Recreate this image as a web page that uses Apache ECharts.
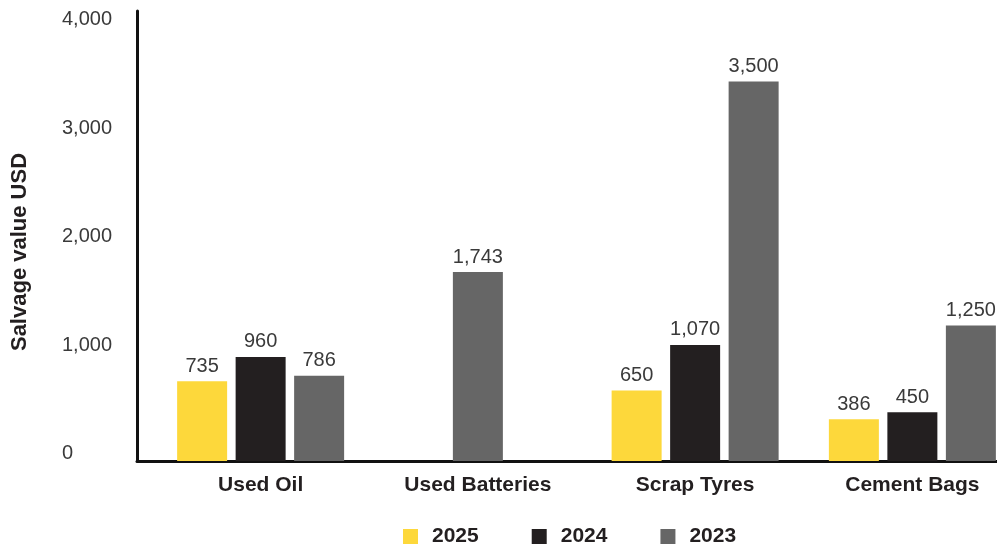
<!DOCTYPE html>
<html>
<head>
<meta charset="utf-8">
<script src="https://cdn.jsdelivr.net/npm/echarts@6/dist/echarts.min.js"></script>
<style>
  html, body { margin: 0; padding: 0; background: #ffffff; }
  #chart { width: 997px; height: 547px; }
</style>
</head>
<body>
<div id="chart"></div>
<script>
// Salvage value by waste stream and year (USD)
const categories = ['Used Oil', 'Used Batteries', 'Scrap Tyres', 'Cement Bags'];
const years = ['2025', '2024', '2023'];
const values2025 = [735, null, 650, 386];
const values2024 = [960, null, 1070, 450];
const values2023 = [786, 1743, 3500, 1250];
const yTicks = [0, 1000, 2000, 3000, 4000];

const colors = { '2025': '#FDD83B', '2024': '#231F20', '2023': '#666666' };
const FONT = '"Liberation Sans", Arial, Helvetica, sans-serif';
const fmt = v => Number(v).toLocaleString('en-US');

// A category with only a 2023 value gets its bar centred in the band
const lone = categories.map((c, i) => values2025[i] == null && values2024[i] == null);
const grouped2023 = values2023.map((v, i) => lone[i] ? null : v);
const single2023 = values2023.map((v, i) => lone[i] ? v : null);

const yMax = 4150;
const barLabel = {
  show: true,
  position: 'top',
  distance: 5,
  color: '#3a3a3a',
  fontFamily: FONT,
  fontSize: 20,
  formatter: p => fmt(p.value)
};

const chart = echarts.init(document.getElementById('chart'), null, { renderer: 'canvas' });
chart.setOption({
  backgroundColor: '#ffffff',
  animation: false,
  grid: [
    { left: 137, width: 900, top: 11, bottom: 86, outerBoundsMode: 'none', containLabel: false },   // axis frame
    { left: 152, width: 869, top: 11, bottom: 86, outerBoundsMode: 'none', containLabel: false }    // bars
  ],
  xAxis: [
    {
      gridIndex: 0, type: 'category', data: categories,
      axisLine: { show: true, lineStyle: { color: '#111111', width: 3 } },
      axisTick: { show: false }, axisLabel: { show: false }, splitLine: { show: false }
    },
    {
      gridIndex: 1, type: 'category', data: categories,
      axisLine: { show: false }, axisTick: { show: false },
      axisLabel: {
        margin: 14, color: '#231F20', fontFamily: FONT, fontSize: 21, fontWeight: 'bold'
      }
    },
    {
      gridIndex: 1, type: 'category', data: categories, show: false
    }
  ],
  yAxis: [
    {
      gridIndex: 0, type: 'value', min: 0, max: yMax, interval: 1000,
      axisLine: { show: true, lineStyle: { color: '#111111', width: 3 } },
      axisTick: { show: false }, splitLine: { show: false },
      axisLabel: {
        showMaxLabel: false,
        align: 'left', margin: 75,
        verticalAlign: 'bottom', lineHeight: 15,
        color: '#3a3a3a', fontFamily: FONT, fontSize: 20,
        formatter: v => yTicks.includes(v) ? fmt(v) : ''
      }
    },
    {
      gridIndex: 1, type: 'value', min: 0, max: yMax, show: false
    }
  ],
  legend: {
    data: years,
    left: 398, top: 521,
    icon: 'rect', itemWidth: 15, itemHeight: 15, itemGap: 53,
    textStyle: { color: '#231F20', fontFamily: FONT, fontSize: 21, fontWeight: 'bold', padding: [0, 0, 0, 9] }
  },
  graphic: [{
    type: 'text',
    x: 20, y: 252,
    rotation: Math.PI / 2,
    style: {
      text: 'Salvage value USD',
      fill: '#231F20',
      font: 'bold 22px ' + FONT,
      textAlign: 'center',
      textVerticalAlign: 'middle'
    }
  }],
  series: [
    {
      name: '2025', type: 'bar', xAxisIndex: 1, yAxisIndex: 1,
      data: values2025, barWidth: 50, barGap: '17%',
      itemStyle: { color: colors['2025'] }, label: barLabel
    },
    {
      name: '2024', type: 'bar', xAxisIndex: 1, yAxisIndex: 1,
      data: values2024, barWidth: 50, barGap: '17%',
      itemStyle: { color: colors['2024'] }, label: barLabel
    },
    {
      name: '2023', type: 'bar', xAxisIndex: 1, yAxisIndex: 1,
      data: grouped2023, barWidth: 50, barGap: '17%',
      itemStyle: { color: colors['2023'] }, label: barLabel
    },
    {
      name: '2023', type: 'bar', xAxisIndex: 2, yAxisIndex: 1,
      data: single2023, barWidth: 50,
      itemStyle: { color: colors['2023'] }, label: barLabel
    }
  ]
});
</script>
</body>
</html>
